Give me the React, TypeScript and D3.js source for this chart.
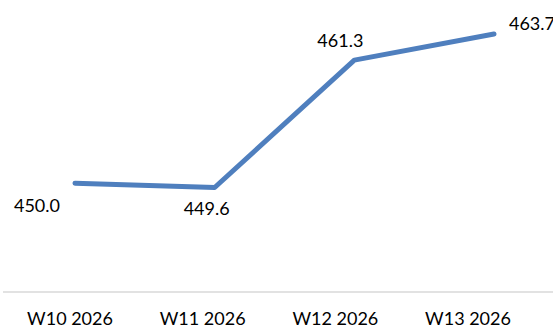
import { useEffect, useRef } from 'react';
import * as d3 from 'd3';

const categories = ['W10 2026', 'W11 2026', 'W12 2026', 'W13 2026'];
const values = [450.0, 449.6, 461.3, 463.7];
const valueLabels = ['450.0', '449.6', '461.3', '463.7'];

// label offsets from each point (dx, dy to baseline centre)
const labelOffsets: [number, number][] = [
  [-38, 29],
  [-8, 27],
  [-14, -13],
  [38, -4],
];

const W = 553;
const H = 329;

export default function App() {
  const svgRef = useRef<SVGSVGElement>(null);

  useEffect(() => {
    if (!svgRef.current) return;
    const svg = d3.select(svgRef.current);
    svg.selectAll('*').remove();

    const x = d3.scalePoint<string>().domain(categories).range([75, 494]);
    const xAxis = d3.scalePoint<string>().domain(categories).range([70, 468]);
    const y = d3.scaleLinear().domain([440, 466]).range([292, 9]);

    const font = 'Lato, "Open Sans", sans-serif';

    // baseline axis
    svg
      .append('line')
      .attr('x1', 3)
      .attr('x2', W)
      .attr('y1', y(440))
      .attr('y2', y(440))
      .attr('stroke', '#d9d9d9')
      .attr('stroke-width', 1.5);

    svg
      .append('g')
      .selectAll('text')
      .data(categories)
      .join('text')
      .attr('x', (d) => xAxis(d)!)
      .attr('y', 325)
      .attr('text-anchor', 'middle')
      .attr('font-family', font)
      .attr('font-size', 18)
      .attr('fill', '#000')
      .text((d) => d);

    const line = d3
      .line<number>()
      .x((_, i) => x(categories[i])!)
      .y((d) => y(d));

    svg
      .append('path')
      .datum(values)
      .attr('d', line)
      .attr('fill', 'none')
      .attr('stroke', '#4f7fbe')
      .attr('stroke-width', 5)
      .attr('stroke-linecap', 'round')
      .attr('stroke-linejoin', 'round');

    svg
      .append('g')
      .selectAll('text')
      .data(values)
      .join('text')
      .attr('x', (_, i) => x(categories[i])! + labelOffsets[i][0])
      .attr('y', (d, i) => y(d) + labelOffsets[i][1])
      .attr('text-anchor', 'middle')
      .attr('font-family', font)
      .attr('font-size', 18)
      .attr('fill', '#000')
      .text((_, i) => valueLabels[i]);
  }, []);

  return (
    <svg
      ref={svgRef}
      width={W}
      height={H}
      style={{ position: 'absolute', left: 0, top: 0, overflow: 'hidden', background: '#fff' }}
    />
  );
}
